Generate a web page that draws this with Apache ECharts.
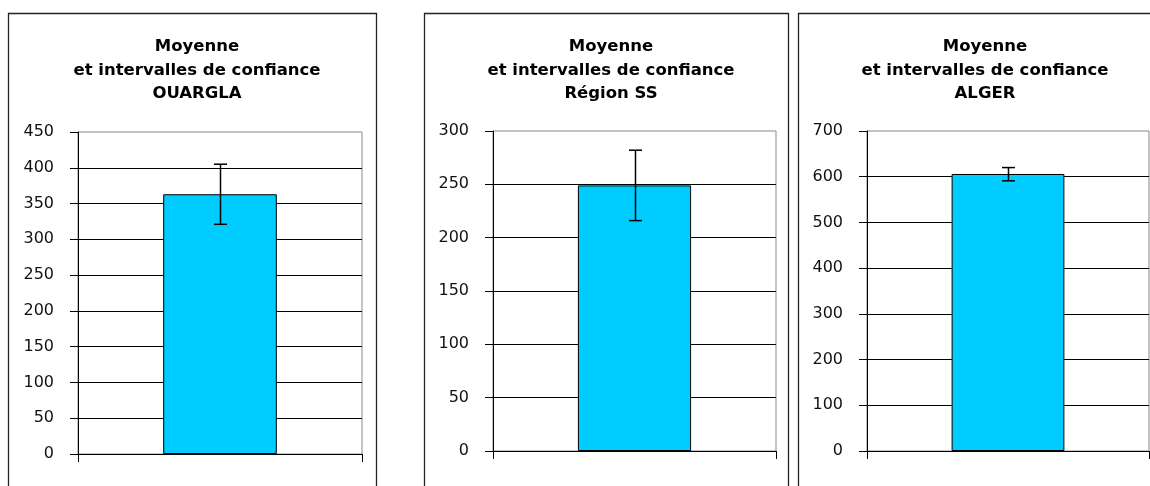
<!DOCTYPE html>
<html>
<head>
<meta charset="utf-8">
<script src="https://cdn.jsdelivr.net/npm/echarts@6/dist/echarts.min.js"></script>
<style>
html,body{margin:0;padding:0;background:#fff;}
#chart{width:1150px;height:486px;}
</style>
</head>
<body>
<div id="chart"></div>
<script>
// ---- data ----
const panelTitles = [
  'Moyenne\net intervalles de confiance\nOUARGLA',
  'Moyenne\net intervalles de confiance\nRégion SS',
  'Moyenne\net intervalles de confiance\nALGER'
];
const categories = [''];
const means = [363, 249, 606];
const lowerCI = [321, 216, 591];
const upperCI = [405, 282, 620];
const axisMax = [450, 300, 700];
const axisStep = [50, 50, 100];

// ---- layout ----
const grids = [
  {left: 78, top: 132, width: 284, height: 322},
  {left: 493, top: 131, width: 283, height: 320},
  {left: 867, top: 131, width: 282, height: 320}
];
const frames = [
  {x: 8, w: 368},
  {x: 424, w: 364},
  {x: 798, w: 364}
];
const FONT = '"DejaVu Sans", sans-serif';

const option = {
  backgroundColor: '#fff',
  animation: false,
  title: panelTitles.map((t, i) => ({
    text: t,
    left: frames[i].x + frames[i].w / 2,
    top: 30,
    textAlign: 'center',
    textStyle: {fontFamily: FONT, fontSize: 16.5, fontWeight: 'bold', color: '#000', lineHeight: 23.5}
  })),
  graphic: frames.map(f => ({
    type: 'rect',
    shape: {x: f.x + 0.5, y: 13.5, width: f.w, height: 500},
    style: {fill: null, stroke: '#222', lineWidth: 1.3},
    z: 100
  })),
  grid: grids.map(g => Object.assign({show: true, borderColor: '#888', borderWidth: 1, backgroundColor: '#fff'}, g)),
  xAxis: grids.map((g, i) => ({
    type: 'category',
    gridIndex: i,
    data: categories,
    boundaryGap: true,
    axisLine: {lineStyle: {color: '#000', width: 1}},
    axisTick: {show: true, length: 8, lineStyle: {color: '#000'}},
    axisLabel: {show: false}
  })),
  yAxis: grids.map((g, i) => ({
    type: 'value',
    gridIndex: i,
    min: 0,
    max: axisMax[i],
    interval: axisStep[i],
    axisLine: {show: true, lineStyle: {color: '#000', width: 1}},
    axisTick: {show: true, length: 8, lineStyle: {color: '#000'}},
    axisLabel: {margin: 24, fontFamily: FONT, fontSize: 16, color: '#111'},
    splitLine: {show: true, showMaxLine: false, lineStyle: {color: '#000', width: 1}}
  })),
  series: [].concat(
    means.map((m, i) => ({
      type: 'bar',
      xAxisIndex: i,
      yAxisIndex: i,
      data: [m],
      barWidth: '40%',
      itemStyle: {color: '#00CCFF', borderColor: '#000', borderWidth: 1},
      z: 3
    })),
    means.map((m, i) => ({
      type: 'custom',
      xAxisIndex: i,
      yAxisIndex: i,
      data: [[0, lowerCI[i], upperCI[i]]],
      z: 5,
      renderItem: function (params, api) {
        const lo = api.coord([api.value(0), api.value(1)]);
        const hi = api.coord([api.value(0), api.value(2)]);
        const x = Math.round(lo[0]) + 0.5;
        const cap = 6.5;
        const st = {stroke: '#000', lineWidth: 1.5};
        return {
          type: 'group',
          children: [
            {type: 'line', shape: {x1: x, y1: hi[1], x2: x, y2: lo[1]}, style: st},
            {type: 'line', shape: {x1: x - cap, y1: hi[1], x2: x + cap, y2: hi[1]}, style: st},
            {type: 'line', shape: {x1: x - cap, y1: lo[1], x2: x + cap, y2: lo[1]}, style: st}
          ]
        };
      }
    }))
  )
};

const chart = echarts.init(document.getElementById('chart'), null, {renderer: 'canvas'});
chart.setOption(option);
</script>
</body>
</html>
